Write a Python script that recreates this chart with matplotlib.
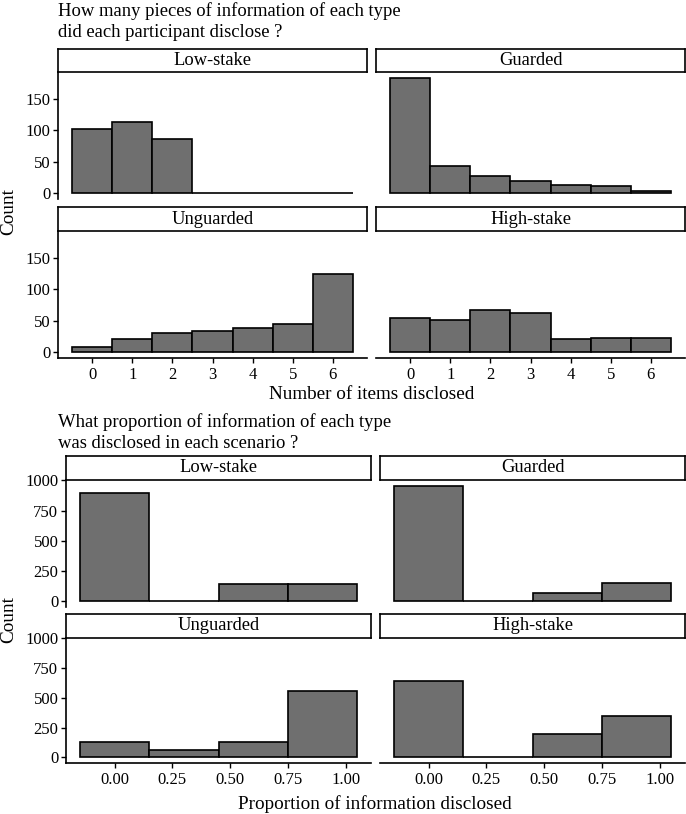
import matplotlib
matplotlib.use('Agg')
import matplotlib.pyplot as plt

plt.rcParams['font.family'] = ['Liberation Serif', 'DejaVu Serif']

W, H, DPI = 686, 814, 100

# ---------------- data ----------------
panel_names = ["Low-stake", "Guarded", "Unguarded", "High-stake"]

items = [0, 1, 2, 3, 4, 5, 6]
items_low = [103, 113, 87, 0, 0, 0, 0]
items_guarded = [184, 44, 28, 19, 13, 12, 3]
items_unguarded = [9, 21, 30, 34, 38, 45, 124]
items_high = [54, 51, 67, 62, 21, 22, 23]
items_yticks = [0, 50, 100, 150]

prop_centers = [0.0, 0.3, 0.6, 0.9]
prop_low = [897, 0, 144, 139]
prop_guarded = [955, 0, 69, 152]
prop_unguarded = [130, 58, 130, 557]
prop_high = [640, 0, 192, 348]
prop_xticks = [0.0, 0.25, 0.5, 0.75, 1.0]
prop_xticklabels = ["0.00", "0.25", "0.50", "0.75", "1.00"]
prop_yticks = [0, 250, 500, 750, 1000]

title1 = ["How many pieces of information of each type",
          "did each participant disclose ?"]
title2 = ["What proportion of information of each type",
          "was disclosed in each scenario ?"]
xlabel1 = "Number of items disclosed"
xlabel2 = "Proportion of information disclosed"
ylabel = "Count"

FILL = '#6f6f6f'
LW = 1.2
TICK_FS = 12
STRIP_FS = 13.3
LAB_FS = 13.8
TITLE_FS = 13.4

fig = plt.figure(figsize=(W / DPI, H / DPI), dpi=DPI)


def add_ax(l, t, r, b):
    return fig.add_axes([l / W, 1 - b / H, (r - l) / W, (b - t) / H])


def fy(px):
    return 1 - px / H


def facet_plot(cols, rows, xs, width, series, xlim, yticks, xticks, xticklabels):
    ymax = max(max(s) for s in series)
    ylim = (-0.05 * ymax, 1.05 * ymax)
    k = 0
    for ri, (st, pt, pb) in enumerate(rows):
        for ci, (l, r) in enumerate(cols):
            # strip
            sax = add_ax(l, st, r, pt)
            sax.set_xticks([]); sax.set_yticks([])
            for sp in sax.spines.values():
                sp.set_linewidth(LW); sp.set_color('black')
            sax.text(0.5, 0.5, panel_names[k], ha='center', va='center',
                     fontsize=STRIP_FS, transform=sax.transAxes)
            # panel
            ax = add_ax(l, pt, r, pb)
            ax.bar(xs, series[k], width=width, align='center', color=FILL,
                   edgecolor='black', linewidth=LW)
            ax.set_xlim(*xlim)
            ax.set_ylim(*ylim)
            ax.spines['top'].set_visible(False)
            ax.spines['right'].set_visible(False)
            ax.spines['left'].set_linewidth(LW)
            ax.spines['bottom'].set_linewidth(LW)
            ax.set_facecolor('none')
            if ci == 0:
                ax.set_yticks(yticks)
                ax.set_yticklabels([str(v) for v in yticks], fontsize=TICK_FS)
                ax.tick_params(axis='y', length=3.5, width=1, pad=2)
            else:
                ax.spines['left'].set_visible(False)
                ax.set_yticks([])
            if ri == len(rows) - 1:
                ax.set_xticks(xticks)
                ax.set_xticklabels(xticklabels, fontsize=TICK_FS)
                ax.tick_params(axis='x', length=3.5, width=1, pad=3)
            else:
                ax.spines['bottom'].set_visible(False)
                ax.set_xticks([])
            k += 1


# ---------------- top plot ----------------
fig.text(58 / W, fy(16), title1[0], ha='left', va='baseline', fontsize=TITLE_FS)
fig.text(58 / W, fy(37), title1[1], ha='left', va='baseline', fontsize=TITLE_FS)
facet_plot(cols=[(58, 367), (376, 685)],
           rows=[(49, 72, 199), (207, 231, 358)],
           xs=items, width=1.0,
           series=[items_low, items_guarded, items_unguarded, items_high],
           xlim=(-0.85, 6.85), yticks=items_yticks,
           xticks=items, xticklabels=[str(v) for v in items])
fig.text(371.5 / W, fy(394), xlabel1, ha='center', va='center', fontsize=LAB_FS)
fig.text(9 / W, fy(212), ylabel, ha='center', va='center', rotation=90, fontsize=LAB_FS)

# ---------------- bottom plot ----------------
fig.text(58 / W, fy(427), title2[0], ha='left', va='baseline', fontsize=TITLE_FS)
fig.text(58 / W, fy(448), title2[1], ha='left', va='baseline', fontsize=TITLE_FS)
facet_plot(cols=[(66, 371), (380, 685)],
           rows=[(456, 480, 607), (614, 638, 763)],
           xs=prop_centers, width=0.3,
           series=[prop_low, prop_guarded, prop_unguarded, prop_high],
           xlim=(-0.21, 1.11), yticks=prop_yticks,
           xticks=prop_xticks, xticklabels=prop_xticklabels)
fig.text(375 / W, fy(804), xlabel2, ha='center', va='center', fontsize=LAB_FS)
fig.text(9 / W, fy(620), ylabel, ha='center', va='center', rotation=90, fontsize=LAB_FS)

fig.savefig('out.png', dpi=DPI)
